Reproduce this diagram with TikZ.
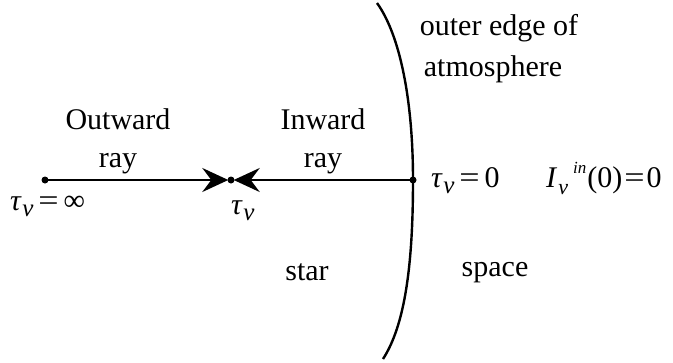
\documentclass[tikz,border=0pt]{standalone}
\usepackage{fontspec}
\setmainfont{Liberation Serif}
\usetikzlibrary{arrows.meta}
\newcommand\tauv{\textit{τ}\kern0.5pt\raisebox{-6pt}{\fontsize{25}{28}\selectfont\textit{ν}}}
\newcommand\eqs{\kern5pt\scalebox{1.2}[1]{=}\kern5pt}
\newcommand\Inu{\textit{I}\kern1pt\raisebox{-7pt}{\fontsize{22}{26}\selectfont\textit{ν}}\kern5pt\raisebox{14pt}{\fontsize{17}{20}\selectfont\textit{in}}\kern1pt(0)\kern2pt\scalebox{1.2}[1]{=}\kern2pt0}
\tikzset{
  lbl/.style={font=\fontsize{30}{34}\selectfont, inner sep=0pt, anchor=base},
  ln/.style={line width=2.4pt},
  pt/.style={circle, fill=black, inner sep=0pt, minimum size=7pt},
  tip/.style={-{Stealth[length=26pt,width=24pt,inset=9pt]}}
}
\begin{document}
\begin{tikzpicture}[x=1pt,y=-1pt]
\useasboundingbox (0,0) rectangle (673,362);
% points
\node[pt] (L) at (45,180) {};
\node[pt] (M) at (231,180) {};
\node[pt] (R) at (413,180) {};
\coordinate (top) at (377,3);
\coordinate (bot) at (383,359);
% bracket
\draw[ln] (top) .. controls (400,35) and (413,100) .. (R.center)
          .. controls (413,265) and (405,325) .. (bot);
% rays
\draw[ln, tip, shorten >=-1pt] (L.center) -- (M.west);
\draw[ln, tip, shorten >=-1pt] (R.center) -- (M.east);
% labels
\node[lbl] (ow) at (118,129) {Outward};
\node[lbl] (or) at (118,167) {ray};
\node[lbl] (iw) at (323,129) {Inward};
\node[lbl] (ir) at (323,167) {ray};
\node[lbl, anchor=base west] (tinf) at (10,210) {\tauv\eqs∞};
\node[lbl, anchor=base west] (tmid) at (231,214) {\tauv};
\node[lbl, anchor=base west] (tz) at (431,187) {\tauv\eqs0};
\node[lbl, anchor=base west] (Iin) at (546,187) {\Inu};
\node[lbl] (oe) at (499,35) {outer edge of};
\node[lbl] (at) at (493,76) {atmosphere};
\node[lbl] (st) at (307,280) {star};
\node[lbl] (sp) at (495,276) {space};
\end{tikzpicture}
\end{document}
